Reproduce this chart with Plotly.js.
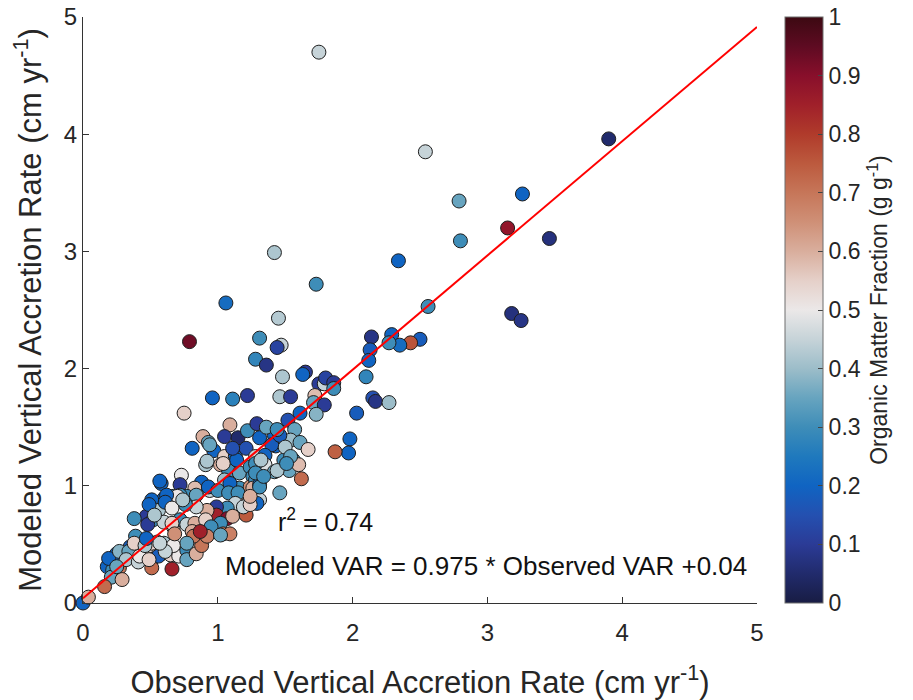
<!DOCTYPE html>
<html>
<head>
<meta charset="utf-8">
<script src="https://cdn.plot.ly/plotly-3.0.1.min.js"></script>
<style>html,body{margin:0;padding:0;background:#fff;}#chart{width:913px;height:700px;}</style>
</head>
<body>
<div id="chart"></div>
<script>
// Observed vertical accretion rate (cm/yr)
const observed = [
1.75,3.90,2.54,3.26,2.79,3.15,3.46,2.80,1.42,2.34,1.73,2.56,3.18,3.25,1.45,1.06,0.79,1.31,1.47,1.44,
1.28,1.36,1.48,1.65,1.63,0.96,1.11,1.22,1.46,1.54,1.75,1.79,1.80,1.86,1.86,1.72,1.71,1.79,1.73,1.61,
1.52,1.57,2.14,2.29,2.50,2.43,2.35,2.27,2.13,2.12,2.10,2.15,2.17,2.27,2.03,1.98,1.97,1.87,0.75,0.81,
1.09,0.89,1.05,1.15,1.22,1.29,1.31,0.93,0.97,1.05,1.13,1.21,1.28,0.91,1.02,1.08,1.16,1.24,1.26,0.73,
0.88,0.72,0.58,0.83,0.94,1.05,1.09,1.16,1.24,1.28,1.31,0.77,0.60,0.67,1.42,1.48,1.54,1.61,1.67,1.43,
1.40,1.35,1.35,1.28,1.42,1.49,1.56,1.53,1.60,1.62,1.46,1.26,1.31,1.28,1.46,1.50,1.54,1.14,1.32,1.44,
1.51,1.04,0.92,0.57,0.72,0.84,0.93,1.00,1.09,1.08,1.15,1.31,1.23,1.29,1.13,1.07,0.99,0.99,1.07,1.11,
1.21,1.19,0.92,0.84,0.76,0.65,0.70,0.62,0.51,0.56,0.47,0.52,0.60,0.67,0.72,0.77,0.83,0.91,1.02,0.93,
0.95,0.86,0.81,1.04,1.09,0.42,0.39,0.35,0.25,0.32,0.40,0.47,0.51,0.58,0.60,0.55,0.65,0.71,0.77,0.77,
0.84,0.88,0.66,0.51,0.18,0.22,0.21,0.27,0.29,0.16,0.00,0.04,0.19,0.27,0.34,0.32,0.41,0.42,0.38,0.51,
0.46,0.47,0.56,0.48,0.38,0.49,0.61,0.53,0.66,0.74,0.66,0.82,0.92,0.77,0.87,0.67,1.02,1.24,1.36,1.44,
1.11,0.94,0.25,0.49,0.61,0.68,0.57,1.34,1.24
];
// Modeled vertical accretion rate (cm/yr)
const modeled = [
4.70,3.96,3.85,3.49,3.43,3.20,3.11,3.09,2.99,2.92,2.72,2.53,2.47,2.41,2.43,2.56,2.23,2.26,2.20,2.18,
2.08,2.03,1.93,1.97,1.95,1.75,1.74,1.77,1.76,1.76,1.87,1.87,1.92,1.88,1.83,1.77,1.71,1.69,1.61,1.62,
1.56,1.48,2.27,2.29,2.25,2.22,2.20,2.22,2.16,2.07,1.93,1.75,1.72,1.71,1.62,1.40,1.28,1.29,1.62,1.32,
1.52,1.42,1.42,1.41,1.47,1.53,1.41,1.37,1.30,1.25,1.25,1.32,1.25,1.18,1.18,1.13,1.11,1.16,1.08,1.09,
1.03,1.01,1.02,0.98,0.96,1.05,0.99,0.98,0.99,1.05,0.88,0.91,0.89,0.91,1.43,1.39,1.39,1.37,1.31,1.34,
1.35,1.26,1.18,1.19,1.12,1.22,1.22,1.13,1.18,1.06,0.94,0.98,1.01,1.11,1.43,1.33,1.25,1.22,1.22,1.13,
1.19,1.19,1.21,1.04,0.92,0.92,0.99,0.96,1.02,0.94,0.94,0.99,0.86,0.85,0.85,0.81,0.82,0.75,0.72,0.74,
0.75,0.82,0.79,0.82,0.84,0.84,0.91,0.92,0.88,0.79,0.74,0.71,0.69,0.65,0.71,0.67,0.68,0.71,0.68,0.59,
0.65,0.59,0.61,0.59,0.59,0.51,0.57,0.48,0.42,0.42,0.42,0.47,0.37,0.42,0.51,0.52,0.41,0.40,0.45,0.37,
0.42,0.49,0.29,0.51,0.31,0.28,0.22,0.30,0.20,0.14,0.00,0.05,0.38,0.44,0.44,0.37,0.35,0.40,0.51,0.30,
0.49,0.55,0.40,0.67,0.72,0.84,0.86,0.75,0.81,0.88,0.68,0.57,0.57,0.51,0.61,0.49,0.58,0.84,1.50,1.48,
1.32,1.35,0.31,0.37,0.44,0.59,0.51,1.08,0.91
];
// Organic matter fraction (g/g)
const organic = [
0.45,0.05,0.45,0.20,0.35,0.88,0.07,0.30,0.42,0.20,0.30,0.30,0.07,0.08,0.43,0.22,0.93,0.30,0.45,0.12,
0.28,0.08,0.42,0.10,0.20,0.20,0.27,0.10,0.42,0.10,0.10,0.45,0.12,0.10,0.30,0.58,0.35,0.10,0.38,0.20,
0.15,0.35,0.08,0.20,0.18,0.76,0.22,0.30,0.18,0.20,0.28,0.15,0.08,0.40,0.18,0.20,0.20,0.74,0.55,0.20,
0.60,0.60,0.10,0.05,0.30,0.10,0.20,0.35,0.20,0.55,0.20,0.15,0.45,0.42,0.60,0.30,0.35,0.30,0.30,0.50,
0.20,0.10,0.20,0.58,0.45,0.40,0.30,0.30,0.65,0.30,0.45,0.30,0.20,0.30,0.20,0.35,0.40,0.35,0.55,0.20,
0.18,0.20,0.48,0.30,0.35,0.30,0.30,0.35,0.58,0.72,0.35,0.60,0.20,0.30,0.18,0.42,0.35,0.20,0.42,0.42,
0.30,0.55,0.42,0.20,0.30,0.35,0.20,0.30,0.20,0.30,0.30,0.30,0.58,0.20,0.45,0.30,0.10,0.85,0.90,0.60,
0.75,0.45,0.60,0.45,0.30,0.45,0.50,0.20,0.20,0.42,0.10,0.30,0.45,0.60,0.30,0.45,0.60,0.55,0.30,0.62,
0.30,0.70,0.60,0.70,0.68,0.35,0.30,0.18,0.20,0.42,0.42,0.55,0.30,0.55,0.42,0.50,0.55,0.50,0.30,0.35,
0.60,0.70,0.85,0.55,0.20,0.30,0.35,0.70,0.60,0.72,0.20,0.60,0.20,0.38,0.35,0.42,0.45,0.50,0.55,0.72,
0.42,0.20,0.18,0.10,0.30,0.20,0.20,0.42,0.50,0.42,0.55,0.70,0.68,0.35,0.85,0.50,0.35,0.55,0.35,0.30,
0.15,0.35,0.35,0.55,0.45,0.65,0.45,0.30,0.60
];
// Regression line parameters
const slope = 0.975;
const intercept = 0.04;
const fitX = [0, 5];
const fitY = fitX.map(v => slope * v + intercept);
const axisTicks = [0, 1, 2, 3, 4, 5];
const cbTicks = [0, 0.1, 0.2, 0.3, 0.4, 0.5, 0.6, 0.7, 0.8, 0.9, 1];
const cbTickText = ['0','0.1','0.2','0.3','0.4','0.5','0.6','0.7','0.8','0.9','1'];

const balance = [
 [0.00,'#181c43'],[0.05,'#212b6c'],[0.10,'#2b3b96'],[0.15,'#2450b0'],[0.20,'#1064c2'],
 [0.25,'#1f79bd'],[0.30,'#3e8db8'],[0.35,'#67a4bf'],[0.40,'#9cbdc9'],[0.45,'#c6d3d8'],
 [0.50,'#ebe8e8'],[0.55,'#e5d0c9'],[0.60,'#d9ae9d'],[0.65,'#cf9077'],[0.70,'#c67659'],
 [0.75,'#bc5a3e'],[0.80,'#b03b2b'],[0.85,'#a0202a'],[0.90,'#880f2b'],[0.95,'#5e0b22'],[1.00,'#3c0912']
];

const fontFam = 'Liberation Sans, Arial, Helvetica, sans-serif';
const txtCol = '#262626';

const traces = [
 {
  type: 'scatter', mode: 'markers', x: observed, y: modeled, cliponaxis: false,
  marker: {
   size: 14, color: organic, cmin: 0, cmax: 1, colorscale: balance,
   line: {color: '#1e1e1e', width: 1},
   showscale: true,
   colorbar: {
    x: 1.0415, xanchor: 'left', xref: 'paper', y: 0.5, yanchor: 'middle', len: 1, lenmode: 'fraction',
    thickness: 38, thicknessmode: 'pixels', outlinewidth: 1, outlinecolor: '#6e6e6e',
    ticks: 'inside', ticklen: 5, tickcolor: '#444', tickvals: cbTicks, ticktext: cbTickText,
    tickfont: {family: fontFam, size: 23, color: txtCol}, xpad: 0, ypad: 0,
    title: {text: 'Organic Matter Fraction (g g<sup>-1</sup>)', side: 'right', font: {family: fontFam, size: 23, color: txtCol}}
   }
  },
  hoverinfo: 'x+y', showlegend: false
 },
 {
  type: 'scatter', mode: 'lines', x: fitX, y: fitY,
  line: {color: '#ff0000', width: 2}, showlegend: false, hoverinfo: 'skip'
 }
];

const layout = {
 width: 913, height: 700,
 margin: {l: 83, r: 156, t: 17, b: 97},
 paper_bgcolor: '#ffffff', plot_bgcolor: '#ffffff',
 font: {family: fontFam, color: txtCol},
 showlegend: false,
 xaxis: {
  range: [0, 5], tickvals: axisTicks, ticks: 'inside', ticklen: 6, tickcolor: '#333',
  showline: true, linecolor: '#333', linewidth: 1, showgrid: false, zeroline: false,
  ticklabelstandoff: 8,
  tickfont: {size: 24, color: txtCol, family: fontFam},
  title: {text: 'Observed Vertical Accretion Rate (cm yr<sup>-1</sup>)', font: {size: 31, color: txtCol, family: fontFam}, standoff: 30}
 },
 yaxis: {
  range: [0, 5], tickvals: axisTicks, ticks: 'inside', ticklen: 6, tickcolor: '#333',
  showline: true, linecolor: '#333', linewidth: 1, showgrid: false, zeroline: false,
  tickfont: {size: 24, color: txtCol, family: fontFam},
  title: {text: 'Modeled Vertical Accretion Rate (cm yr<sup>-1</sup>)', font: {size: 31, color: txtCol, family: fontFam}, standoff: 12}
 },
 annotations: [
  {x: 1.80, y: 0.71, xref: 'x', yref: 'y', text: 'r<sup>2</sup> = 0.74', showarrow: false,
   font: {size: 25, color: '#111', family: fontFam}},
  {x: 2.99, y: 0.32, xref: 'x', yref: 'y', text: 'Modeled VAR = 0.975 * Observed VAR +0.04', showarrow: false,
   font: {size: 26, color: '#111', family: fontFam}}
 ]
};

Plotly.newPlot('chart', traces, layout, {displayModeBar: false, staticPlot: true});
</script>
</body>
</html>
